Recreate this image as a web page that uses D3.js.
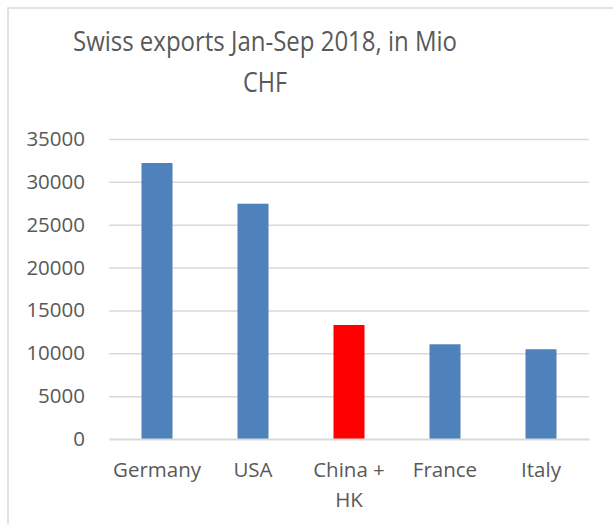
<!DOCTYPE html>
<html>
<head>
<meta charset="utf-8">
<script src="https://cdn.jsdelivr.net/npm/d3@7"></script>
<style>
  html, body { margin: 0; padding: 0; background: #ffffff; }
  svg { display: block; }
  text { font-family: "Open Sans", sans-serif; fill: #595959; }
</style>
</head>
<body>
<svg id="chart" width="613" height="524"></svg>
<script>
const titleLines = ["Swiss exports Jan-Sep 2018, in Mio", "CHF"];
const categories = ["Germany", "USA", "China + HK", "France", "Italy"];
const categoryLabelLines = [["Germany"], ["USA"], ["China +", "HK"], ["France"], ["Italy"]];
const values = [32200, 27450, 13300, 11050, 10470];
const barColors = ["#4f81bd", "#4f81bd", "#ff0000", "#4f81bd", "#4f81bd"];
const yTicks = [0, 5000, 10000, 15000, 20000, 25000, 30000, 35000];

const svg = d3.select("#chart");

// outer chart border
svg.append("rect")
  .attr("x", 8).attr("y", 8)
  .attr("width", 640).attr("height", 560)
  .attr("fill", "none").attr("stroke", "#d9d9d9").attr("stroke-width", 1.5);

const plot = { left: 109, right: 589, top: 139, bottom: 439 };

const x = d3.scaleBand()
  .domain(categories)
  .range([plot.left, plot.right])
  .paddingInner(0.677)
  .paddingOuter(0.677 / 2);

const y = d3.scaleLinear()
  .domain([0, 35000])
  .range([plot.bottom, plot.top]);

// title (narrowed to match the reference's condensed face)
const titleWidths = [384, 44];
const title = svg.append("g").style("font-size", "26.5px");
title.selectAll("text")
  .data(titleLines)
  .join("text")
  .attr("text-anchor", "middle")
  .attr("x", 265)
  .attr("y", (d, i) => 51 + i * 41)
  .attr("textLength", (d, i) => titleWidths[i])
  .attr("lengthAdjust", "spacingAndGlyphs")
  .text(d => d);

// gridlines via axis
const yGrid = d3.axisLeft(y)
  .tickValues(yTicks.filter(t => t !== 0))
  .tickSize(-(plot.right - plot.left))
  .tickFormat("");
svg.append("g")
  .attr("transform", `translate(${plot.left},0)`)
  .call(yGrid)
  .call(g => g.select(".domain").remove())
  .call(g => g.selectAll("line").attr("stroke", "#d9d9d9").attr("stroke-width", 1.5));

// y tick labels
const yAxis = d3.axisLeft(y)
  .tickValues(yTicks)
  .tickSize(0)
  .tickPadding(24)
  .tickFormat(d3.format("d"));
svg.append("g")
  .attr("transform", `translate(${plot.left},0)`)
  .call(yAxis)
  .call(g => g.select(".domain").remove())
  .call(g => g.selectAll("text")
    .style("font-family", "'Open Sans', sans-serif")
    .style("font-size", "20.5px")
    .attr("fill", "#595959"));

// bars
svg.append("g")
  .selectAll("rect")
  .data(categories)
  .join("rect")
  .attr("x", d => x(d))
  .attr("width", x.bandwidth())
  .attr("y", (d, i) => y(values[i]))
  .attr("height", (d, i) => y(0) - y(values[i]))
  .attr("fill", (d, i) => barColors[i]);

// x axis line
const xAxis = d3.axisBottom(x).tickSize(0).tickFormat("");
svg.append("g")
  .attr("transform", `translate(0,${y(0)})`)
  .call(xAxis)
  .call(g => g.select(".domain").attr("stroke", "#d9d9d9").attr("stroke-width", 2.2));

// x labels
const xl = svg.append("g")
  .selectAll("text")
  .data(categories)
  .join("text")
  .attr("text-anchor", "middle")
  .style("font-size", "20.5px");
xl.each(function(d, i) {
  d3.select(this).selectAll("tspan")
    .data(categoryLabelLines[i])
    .join("tspan")
    .attr("x", x(d) + x.bandwidth() / 2)
    .attr("y", (t, j) => 477 + j * 30)
    .text(t => t);
});
</script>
</body>
</html>
